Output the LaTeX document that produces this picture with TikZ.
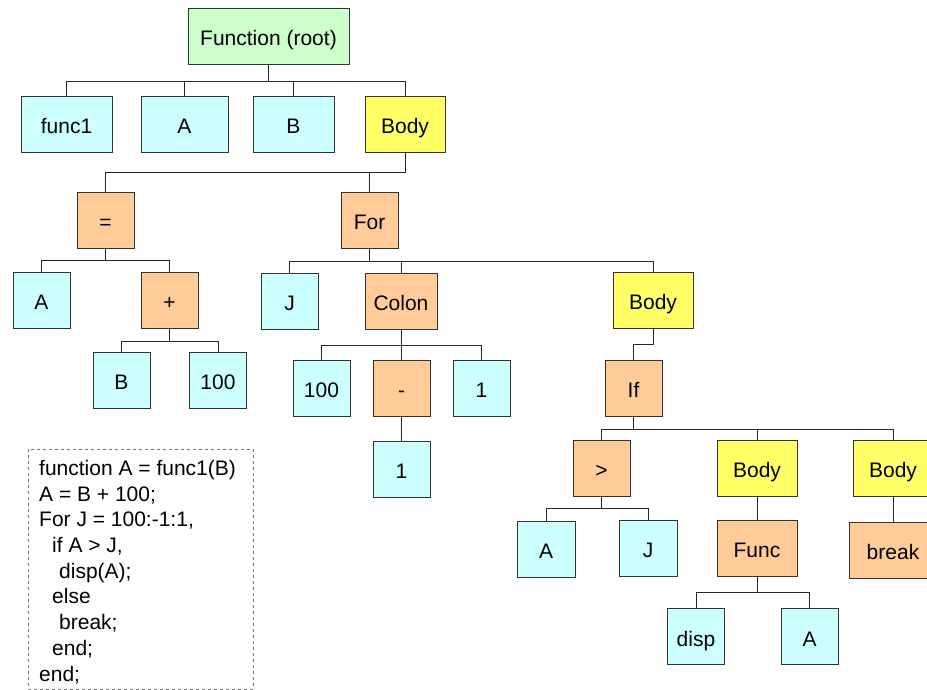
\documentclass[tikz,border=0pt]{standalone}
\usepackage{fontspec}
\setmainfont{Liberation Sans}
\definecolor{leafcol}{HTML}{CCFFFF}
\definecolor{opcol}{HTML}{FFCC99}
\definecolor{bodycol}{HTML}{FFFF66}
\definecolor{rootcol}{HTML}{CCFFCC}
\begin{document}
\begin{tikzpicture}[x=1pt, y=-1pt,
	box/.style={draw=black!80, line width=0.9pt, minimum height=56pt, inner sep=0pt, text height=19pt, text depth=0pt, font=\fontsize{21}{25}\selectfont},
	leaf/.style={box, fill=leafcol, minimum width=57pt},
	op/.style={box, fill=opcol, minimum width=57pt},
	body/.style={box, fill=bodycol, minimum width=80pt},
	link/.style={draw=black!85, line width=0.9pt}]
			\useasboundingbox (0,0) rectangle (927,690);
			\node[box, fill=rootcol, minimum width=161pt] (root) at (268.5,36) {Function (root)};
			\node[leaf, minimum width=91pt] (func1) at (66.5,124) {func1};
			\node[leaf, minimum width=87pt] (a1) at (184.5,124) {A};
			\node[leaf, minimum width=81pt] (b1) at (293.5,124) {B};
			\node[body] (body1) at (405,124) {Body};
			
			\node[op] (eq) at (105.5,220) {=};
			\node[op] (for) at (369.5,220) {For};
			\node[leaf] (a2) at (41.5,300) {A};
			\node[op] (plus) at (169.5,300) {+};
			\node[leaf] (b2) at (121.5,380) {B};
			\node[leaf] (n100a) at (218,380) {100};
			
			\node[leaf] (j1) at (289.5,301) {J};
			\node[op, minimum width=72pt] (colon) at (401,301) {Colon};
			\node[body] (body2) at (653,300) {Body};
			\node[leaf] (n100b) at (321.5,388) {100};
			\node[op] (minus) at (401.5,388) {-};
			\node[leaf] (one1) at (481.5,388) {1};
			\node[leaf] (one2) at (401.5,469) {1};
			
			\node[op] (if) at (633.5,388) {If};
			\node[op] (gt) at (601.5,468) {>};
			\node[body] (body3) at (757,468) {Body};
			\node[body] (body4) at (893,468) {Body};
			\node[leaf, minimum width=58pt] (a3) at (546,549) {A};
			\node[leaf, minimum width=58pt] (j2) at (648,548) {J};
			\node[op, minimum width=80pt] (func) at (757,548) {Func};
			\node[op, minimum width=88pt] (break) at (893,550) {break};
			\node[leaf] (disp) at (696,636.5) {disp};
			\node[leaf] (a4) at (809.5,636.5) {A};
			
			% tree links
			\foreach \c in {func1,a1,b1,body1}
				\draw[link] (root.south) -- ++(0,17) -| (\c.north);
			\foreach \c in {eq,for}
				\draw[link] (body1.south) -- ++(0,20) -| (\c.north);
			\foreach \c in {a2,plus}
				\draw[link] (eq.south) -- ++(0,12) -| (\c.north);
			\foreach \c in {b2,n100a}
				\draw[link] (plus.south) -- ++(0,13) -| (\c.north);
			\foreach \c in {j1,colon,body2}
				\draw[link] (for.south) -- ++(0,13) -| (\c.north);
			\foreach \c in {n100b,minus,one1}
				\draw[link] (colon.south) -- ++(0,16) -| (\c.north);
			\draw[link] (minus) -- (one2);
			\draw[link] (body2.south) -- ++(0,16) -| (if.north);
			\foreach \c in {gt,body3,body4}
				\draw[link] (if.south) -- ++(0,13) -| (\c.north);
			\foreach \c in {a3,j2}
				\draw[link] (gt.south) -- ++(0,12) -| (\c.north);
			\draw[link] (body3) -- (func);
			\draw[link] (body4) -- (break);
			\foreach \c in {disp,a4}
				\draw[link] (func.south) -- ++(0,16) -| (\c.north);
			
			% source code
			\draw[black!55, line width=0.9pt, dash pattern=on 3pt off 3pt] (28,449) rectangle (253,689);
			\node[anchor=north west, inner sep=0pt, align=left, font=\fontsize{21}{25.7}\selectfont] (code) at (39,460) {%
				function A = func1(B)\\
				A = B + 100;\\
				For J = 100:-1:1,\\
				\hspace*{13pt}if A > J,\\
				\hspace*{20pt}disp(A);\\
				\hspace*{13pt}else\\
				\hspace*{20pt}break;\\
				\hspace*{13pt}end;\\
				end;};
		\end{tikzpicture}
\end{document}
